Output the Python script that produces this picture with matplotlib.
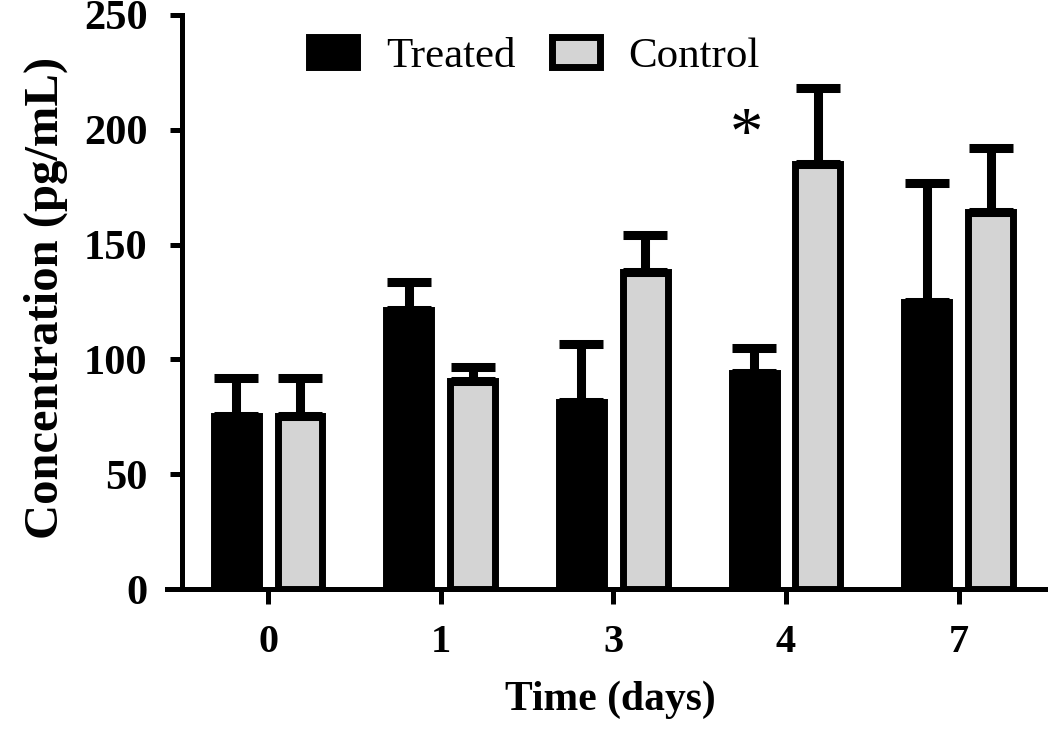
import numpy as np
import matplotlib
matplotlib.use("Agg")
import matplotlib.pyplot as plt

# values
days = ["0", "1", "3", "4", "7"]
treated_mean = [75.5, 121.5, 81.5, 94.0, 125.0]
treated_err = [16.5, 12.0, 25.0, 11.0, 52.0]
control_mean = [75.5, 90.5, 138.0, 185.0, 164.0]
control_err = [16.5, 6.0, 16.0, 33.0, 28.0]
star_day = "4"
star_value = 190.0

plt.rcParams["font.family"] = ["Liberation Serif", "DejaVu Serif"]

fig = plt.figure(figsize=(10.5, 7.29), dpi=100)
ax = fig.add_axes([167 / 1050, 1 - 589 / 729, (1045 - 167) / 1050, (589 - 15) / 729])

x = np.arange(len(days))
w = 0.26
off = 0.185
lw = 5.0

ax.bar(x - off, treated_mean, w, color="black", edgecolor="black", linewidth=lw,
       label="Treated", zorder=2)
ax.bar(x + off, control_mean, w, color="#d4d4d4", edgecolor="black", linewidth=lw,
       label="Control", zorder=2)

zeros = np.zeros(len(days))
ax.errorbar(x - off, treated_mean, yerr=[zeros, treated_err], fmt="none", ecolor="black",
            elinewidth=6.5, capsize=16, capthick=6.5, zorder=3)
ax.errorbar(x + off, control_mean, yerr=[zeros, control_err], fmt="none", ecolor="black",
            elinewidth=6.5, capsize=16, capthick=6.5, zorder=3)

ax.text(days.index(star_day) - 0.227, star_value, "*", fontsize=48, ha="center",
        va="baseline")

ax.set_xlim(-0.585, 4.5)
ax.set_ylim(0, 250)
ax.set_yticks([0, 50, 100, 150, 200, 250])
ax.set_xticks(x)
ax.set_xticklabels(days)

for s in ["top", "right"]:
    ax.spines[s].set_visible(False)
ax.spines["left"].set_position(("data", -0.5))
ax.spines["left"].set_linewidth(3.6)
ax.spines["bottom"].set_linewidth(3.6)

ax.tick_params(axis="y", direction="out", length=8.6, width=3.6, pad=16,
               labelsize=30.5)
ax.tick_params(axis="x", direction="out", length=11, width=3.6, pad=14,
               labelsize=29)
for lab in ax.get_xticklabels() + ax.get_yticklabels():
    lab.set_fontweight("bold")

ax.set_xlabel("Time (days)", fontsize=30, fontweight="bold")
ax.xaxis.set_label_coords((610 - 167) / 878, (589 - 700) / 574)
ax.xaxis.label.set_va("center")
ax.set_ylabel("Concentration (pg/mL)", fontsize=35, fontweight="bold")
ax.yaxis.set_label_coords((46 - 167) / 878, (589 - 298) / 574)
ax.yaxis.label.set_va("center")

ax.legend(loc="center", bbox_to_anchor=(0.509, 0.923), bbox_transform=fig.transFigure,
          ncol=2, frameon=False, fontsize=31, handlelength=1.12, handleheight=0.7,
          handletextpad=0.66, columnspacing=0.85, borderpad=0)

fig.savefig("out.png", dpi=100)
